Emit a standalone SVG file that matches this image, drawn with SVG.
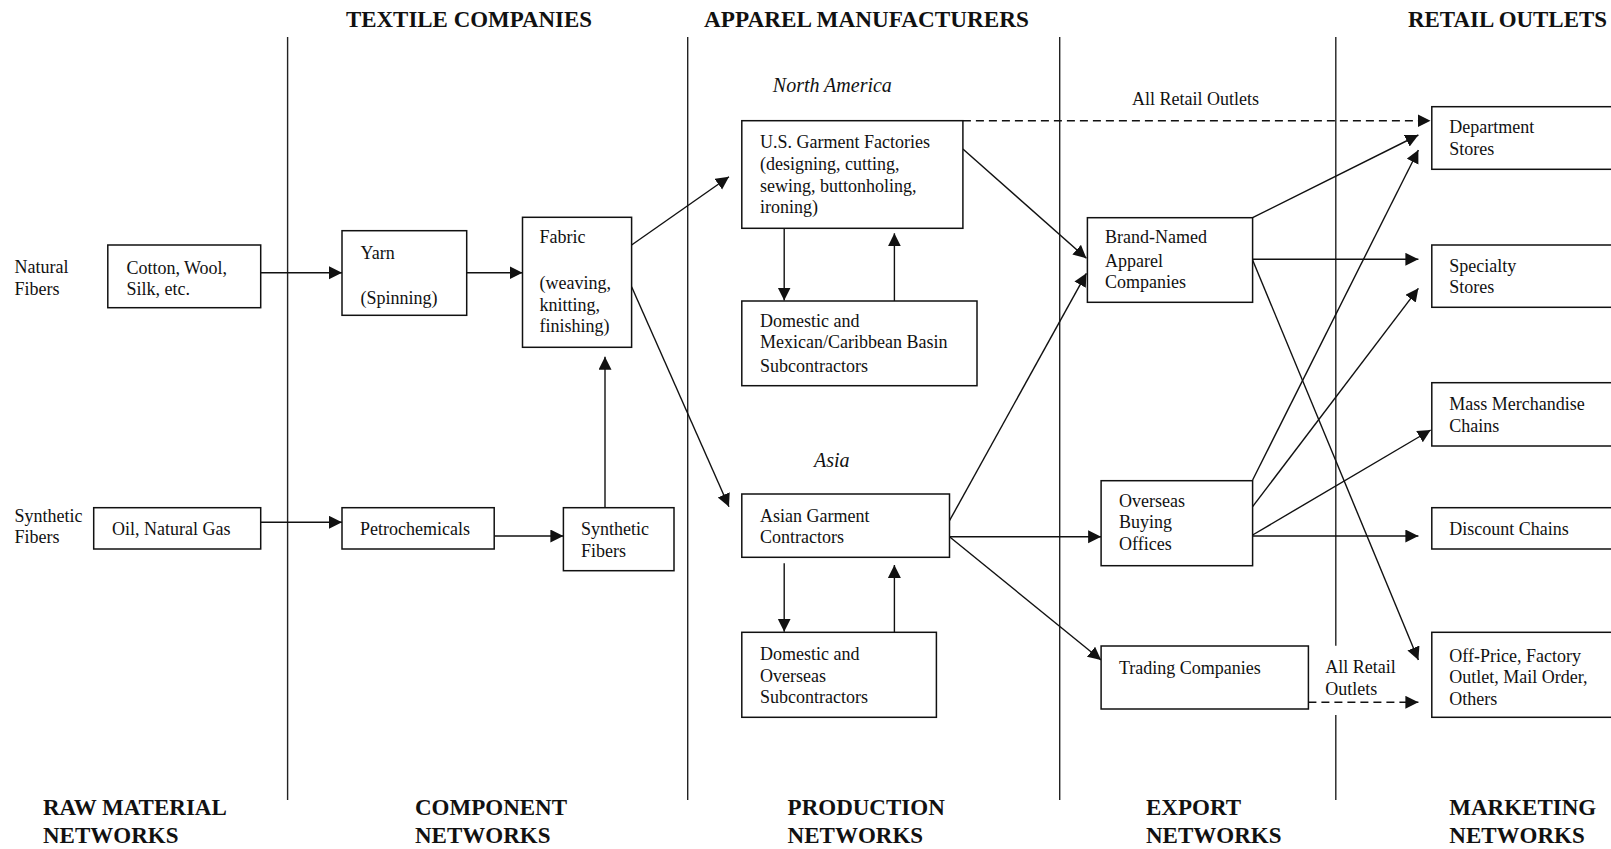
<svg xmlns="http://www.w3.org/2000/svg" width="1611" height="849" viewBox="0 0 1611 849">
<style>
.hd{font-family:"Liberation Serif","Times New Roman",serif;font-weight:bold;font-size:23px;fill:#111}
.tx{font-family:"Liberation Serif","Times New Roman",serif;font-size:18px;fill:#111}
.it{font-family:"Liberation Serif","Times New Roman",serif;font-style:italic;font-size:20px;fill:#111}
.bx{fill:#fff;stroke:#111;stroke-width:1.5}
.ln{fill:none;stroke:#111;stroke-width:1.4}
.dv{fill:none;stroke:#222;stroke-width:1.4}
.ds{fill:none;stroke:#111;stroke-width:1.4;stroke-dasharray:8 5}
</style>
<defs>
<marker id="ah" markerUnits="userSpaceOnUse" markerWidth="14" markerHeight="14" refX="13" refY="6.5" orient="auto">
<path d="M0,0 L13,6.5 L0,13 z" fill="#111"/>
</marker>
</defs>
<rect width="1611" height="849" fill="#fff"/>
<g id="dividers">
<line class="dv" x1="287.6" y1="37" x2="287.6" y2="800"/>
<line class="dv" x1="687.7" y1="37" x2="687.7" y2="800"/>
<line class="dv" x1="1059.7" y1="37" x2="1059.7" y2="800"/>
<line class="dv" x1="1335.8" y1="37" x2="1335.8" y2="645.7"/>
<line class="dv" x1="1335.8" y1="715" x2="1335.8" y2="800"/>
</g>
<g id="headers">
<text class="hd" x="346" y="27" textLength="246" lengthAdjust="spacingAndGlyphs">TEXTILE COMPANIES</text>
<text class="hd" x="704" y="27" textLength="325" lengthAdjust="spacingAndGlyphs">APPAREL MANUFACTURERS</text>
<text class="hd" x="1408" y="27" textLength="199" lengthAdjust="spacingAndGlyphs">RETAIL OUTLETS</text>
<text class="hd" x="43" y="815">RAW MATERIAL</text>
<text class="hd" x="43" y="843">NETWORKS</text>
<text class="hd" x="415" y="815">COMPONENT</text>
<text class="hd" x="415" y="843">NETWORKS</text>
<text class="hd" x="787.6" y="815">PRODUCTION</text>
<text class="hd" x="787.6" y="843">NETWORKS</text>
<text class="hd" x="1146" y="815">EXPORT</text>
<text class="hd" x="1146" y="843">NETWORKS</text>
<text class="hd" x="1449.3" y="815">MARKETING</text>
<text class="hd" x="1449.3" y="843">NETWORKS</text>
</g>
<g id="labels">
<text class="tx" x="14.5" y="273">Natural</text>
<text class="tx" x="14.5" y="295">Fibers</text>
<text class="tx" x="14.5" y="521.7">Synthetic</text>
<text class="tx" x="14.5" y="543.3">Fibers</text>
<text class="it" x="772.8" y="91.7">North America</text>
<text class="it" x="814" y="466.7">Asia</text>
<text class="tx" x="1132" y="105">All Retail Outlets</text>
<text class="tx" x="1325.3" y="673.3">All Retail</text>
<text class="tx" x="1325.3" y="695">Outlets</text>
</g>
<g id="connectors">
<line class="ln" x1="260.7" y1="272.7" x2="342" y2="272.7" marker-end="url(#ah)"/>
<line class="ln" x1="466.7" y1="272.7" x2="522.5" y2="272.7" marker-end="url(#ah)"/>
<line class="ln" x1="260.7" y1="522.3" x2="342" y2="522.3" marker-end="url(#ah)"/>
<line class="ln" x1="494.2" y1="536" x2="563.4" y2="536" marker-end="url(#ah)"/>
<line class="ln" x1="605" y1="507.7" x2="605" y2="356.7" marker-end="url(#ah)"/>
<line class="ln" x1="631.6" y1="245" x2="729" y2="176.7" marker-end="url(#ah)"/>
<line class="ln" x1="631.6" y1="286.7" x2="729" y2="506.7" marker-end="url(#ah)"/>
<line class="ln" x1="784.2" y1="228.3" x2="784.2" y2="300.5" marker-end="url(#ah)"/>
<line class="ln" x1="894.4" y1="301" x2="894.4" y2="233.3" marker-end="url(#ah)"/>
<line class="ln" x1="784.2" y1="563.3" x2="784.2" y2="631.7" marker-end="url(#ah)"/>
<line class="ln" x1="894.4" y1="632.3" x2="894.4" y2="565" marker-end="url(#ah)"/>
<line class="ds" x1="962.9" y1="120.7" x2="1430.5" y2="120.7" marker-end="url(#ah)"/>
<line class="ln" x1="962.9" y1="149" x2="1086.4" y2="258.3" marker-end="url(#ah)"/>
<line class="ln" x1="949.5" y1="520.7" x2="1086.4" y2="273.3" marker-end="url(#ah)"/>
<line class="ln" x1="949.5" y1="536.7" x2="1101.1" y2="536.7" marker-end="url(#ah)"/>
<line class="ln" x1="949.5" y1="536.7" x2="1101.1" y2="660" marker-end="url(#ah)"/>
<line class="ln" x1="1252.6" y1="217.7" x2="1418.4" y2="135" marker-end="url(#ah)"/>
<line class="ln" x1="1252.6" y1="259.3" x2="1418.4" y2="259.3" marker-end="url(#ah)"/>
<line class="ln" x1="1252.6" y1="260" x2="1418.4" y2="660" marker-end="url(#ah)"/>
<line class="ln" x1="1252.6" y1="480" x2="1418.4" y2="150" marker-end="url(#ah)"/>
<line class="ln" x1="1252.6" y1="506.7" x2="1418.4" y2="288.3" marker-end="url(#ah)"/>
<line class="ln" x1="1252.6" y1="535" x2="1430.7" y2="430" marker-end="url(#ah)"/>
<line class="ln" x1="1252.6" y1="536" x2="1418.4" y2="536" marker-end="url(#ah)"/>
<line class="ds" x1="1308.4" y1="702.3" x2="1418.4" y2="702.3" marker-end="url(#ah)"/>
</g>
<g id="cotton">
<rect class="bx" x="107.8" y="245" width="152.9" height="62.7"/>
<text class="tx" x="126.4" y="274">Cotton, Wool,</text>
<text class="tx" x="126.4" y="295">Silk, etc.</text>
</g>
<g id="oil">
<rect class="bx" x="93.7" y="507.7" width="167" height="41.3"/>
<text class="tx" x="112" y="535">Oil, Natural Gas</text>
</g>
<g id="yarn">
<rect class="bx" x="342" y="230.7" width="124.7" height="84.6"/>
<text class="tx" x="360.6" y="259">Yarn</text>
<text class="tx" x="360.6" y="304">(Spinning)</text>
</g>
<g id="fabric">
<rect class="bx" x="522.5" y="217.3" width="109.1" height="130"/>
<text class="tx" x="539.6" y="243.3">Fabric</text>
<text class="tx" x="539.6" y="289.3">(weaving,</text>
<text class="tx" x="539.6" y="310.7">knitting,</text>
<text class="tx" x="539.6" y="332.3">finishing)</text>
</g>
<g id="petrochemicals">
<rect class="bx" x="342" y="507.7" width="152.2" height="41.3"/>
<text class="tx" x="360" y="535">Petrochemicals</text>
</g>
<g id="synthetic-fibers">
<rect class="bx" x="563.4" y="507.7" width="110.6" height="63"/>
<text class="tx" x="581" y="535">Synthetic</text>
<text class="tx" x="581" y="556.7">Fibers</text>
</g>
<g id="us-garment">
<rect class="bx" x="741.8" y="120.7" width="221.1" height="107.6"/>
<text class="tx" x="760" y="147.7">U.S. Garment Factories</text>
<text class="tx" x="760" y="170">(designing, cutting,</text>
<text class="tx" x="760" y="191.7">sewing, buttonholing,</text>
<text class="tx" x="760" y="213.3">ironing)</text>
</g>
<g id="mexican-sub">
<rect class="bx" x="741.8" y="301" width="235.2" height="84.7"/>
<text class="tx" x="760" y="326.7">Domestic and</text>
<text class="tx" x="760" y="348.3">Mexican/Caribbean Basin</text>
<text class="tx" x="760" y="371.7">Subcontractors</text>
</g>
<g id="asian-garment">
<rect class="bx" x="741.8" y="494" width="207.7" height="63.3"/>
<text class="tx" x="760" y="521.7">Asian Garment</text>
<text class="tx" x="760" y="543.3">Contractors</text>
</g>
<g id="overseas-sub">
<rect class="bx" x="741.8" y="632.3" width="194.6" height="85"/>
<text class="tx" x="760" y="660">Domestic and</text>
<text class="tx" x="760" y="681.7">Overseas</text>
<text class="tx" x="760" y="703.3">Subcontractors</text>
</g>
<g id="brand-named">
<rect class="bx" x="1087.4" y="217.7" width="165.2" height="84.6"/>
<text class="tx" x="1105" y="243.3">Brand-Named</text>
<text class="tx" x="1105" y="266.7">Apparel</text>
<text class="tx" x="1105" y="288.3">Companies</text>
</g>
<g id="overseas-buying">
<rect class="bx" x="1101.1" y="480.7" width="151.5" height="85"/>
<text class="tx" x="1119" y="506.7">Overseas</text>
<text class="tx" x="1119" y="528.3">Buying</text>
<text class="tx" x="1119" y="550">Offices</text>
</g>
<g id="trading">
<rect class="bx" x="1101.1" y="646" width="207.3" height="63"/>
<text class="tx" x="1119" y="674.3">Trading Companies</text>
</g>
<g id="department">
<rect class="bx" x="1431.8" y="106.7" width="185" height="62.6"/>
<text class="tx" x="1449.3" y="133.3">Department</text>
<text class="tx" x="1449.3" y="155">Stores</text>
</g>
<g id="specialty">
<rect class="bx" x="1431.8" y="245" width="185" height="62.3"/>
<text class="tx" x="1449.3" y="271.7">Specialty</text>
<text class="tx" x="1449.3" y="293.3">Stores</text>
</g>
<g id="mass-merchandise">
<rect class="bx" x="1431.8" y="382.7" width="185" height="63.3"/>
<text class="tx" x="1449.3" y="410">Mass Merchandise</text>
<text class="tx" x="1449.3" y="431.7">Chains</text>
</g>
<g id="discount">
<rect class="bx" x="1431.8" y="507.7" width="185" height="41.3"/>
<text class="tx" x="1449.3" y="535">Discount Chains</text>
</g>
<g id="off-price">
<rect class="bx" x="1431.8" y="632.3" width="185" height="85"/>
<text class="tx" x="1449.3" y="661.7">Off-Price, Factory</text>
<text class="tx" x="1449.3" y="683.3">Outlet, Mail Order,</text>
<text class="tx" x="1449.3" y="705">Others</text>
</g>
</svg>
